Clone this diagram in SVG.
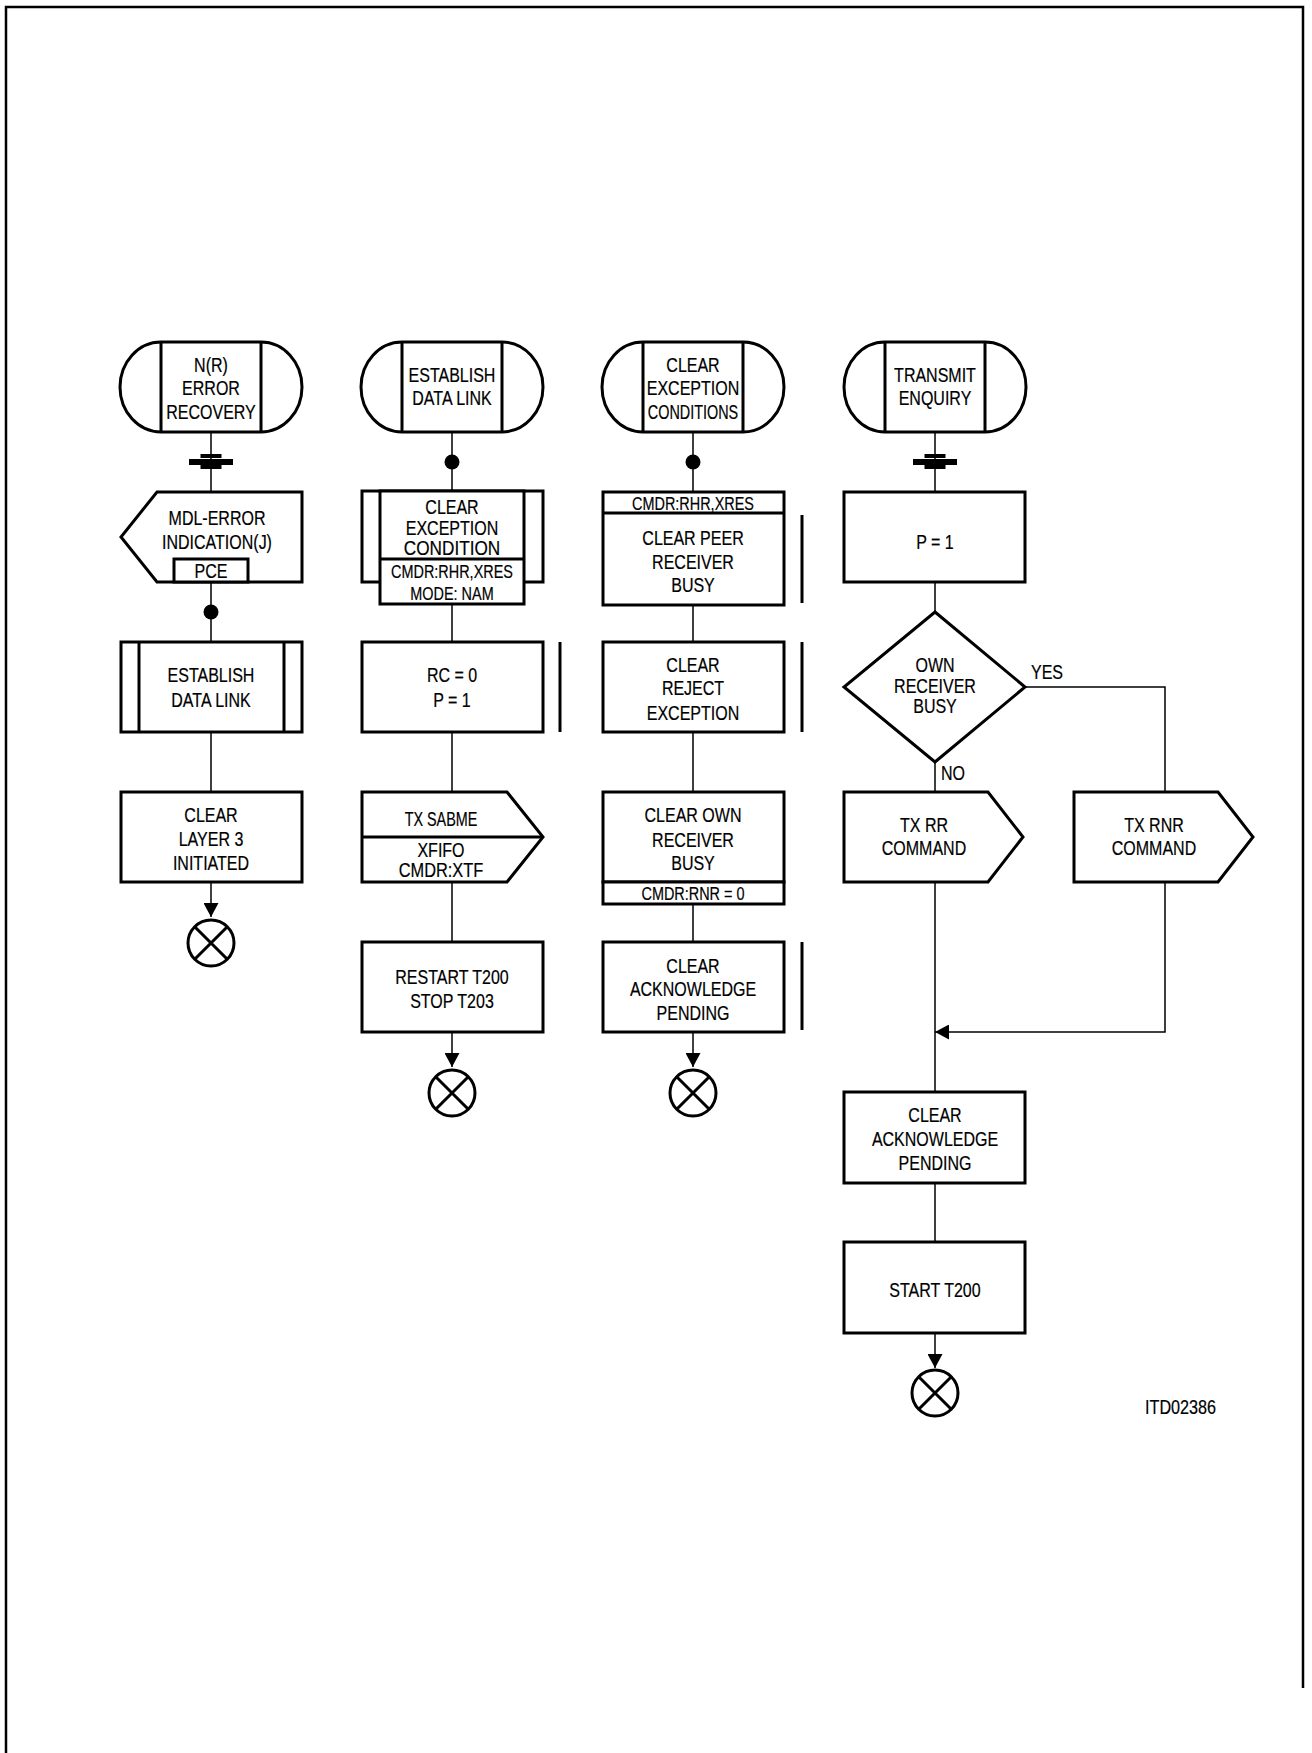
<svg xmlns="http://www.w3.org/2000/svg" width="1312" height="1753" viewBox="0 0 1312 1753">
<style>
.t{font-family:"Liberation Sans",Arial,Helvetica,sans-serif;font-size:20px;text-anchor:middle;fill:#000;stroke:#000;stroke-width:0.2}
.s{font-size:19px}
.st{text-anchor:start}
.b{fill:#fff;stroke:#000;stroke-width:3}
.bl{fill:none;stroke:#000;stroke-width:3}
.c{fill:none;stroke:#000;stroke-width:1.5}
.dot{fill:#000}
</style>
<defs>
<marker id="ah" markerWidth="15" markerHeight="15" refX="14" refY="7.5" orient="auto" markerUnits="userSpaceOnUse"><path d="M0,0 L14,7.5 L0,15 z" fill="#000"/></marker>
<g id="dbar"><rect x="-10.5" y="-8" width="21" height="4" fill="#000"/><rect x="-22" y="-3" width="44" height="6" fill="#000"/><rect x="-10.5" y="3" width="21" height="4" fill="#000"/></g>
<g id="endc"><circle cx="0" cy="0" r="23" fill="#fff" stroke="#000" stroke-width="3"/><path d="M-16.3,-16.3 L16.3,16.3 M16.3,-16.3 L-16.3,16.3" stroke="#000" stroke-width="3"/></g>
</defs>
<rect x="0" y="0" width="1312" height="1753" fill="#fff"/>
<path id="frame" d="M6,1753 V7 H1303 V1688" fill="none" stroke="#000" stroke-width="2.5"/>

<g id="connectors">
<path class="c" d="M211,432 V492 M211,582 V642 M211,732 V792"/>
<path class="c" d="M211,882 V917" marker-end="url(#ah)"/>
<path class="c" d="M452,432 V492 M452,604 V642 M452,732 V792 M452,882 V942"/>
<path class="c" d="M452,1032 V1067" marker-end="url(#ah)"/>
<path class="c" d="M693,432 V492 M693,605 V642 M693,732 V792 M693,904 V942"/>
<path class="c" d="M693,1032 V1067" marker-end="url(#ah)"/>
<path class="c" d="M935,432 V492 M935,582 V612 M935,762 V792 M935,882 V1092 M935,1183 V1242"/>
<path class="c" d="M935,1333 V1368" marker-end="url(#ah)"/>
<path class="c" d="M1025,687 H1165 V792"/>
<path class="c" d="M1165,882 V1032 H935" marker-end="url(#ah)"/>
<use href="#dbar" x="211" y="462"/>
<use href="#dbar" x="935" y="462"/>
<circle class="dot" cx="452" cy="462" r="7.5"/>
<circle class="dot" cx="693" cy="462" r="7.5"/>
<circle class="dot" cx="211" cy="612" r="7.5"/>
<text class="t st" transform="translate(1031,679) scale(0.8,1)">YES</text>
<text class="t st" transform="translate(941,780) scale(0.8,1)">NO</text>
</g>

<!-- Column 1 -->
<g id="n1-start">
<path class="b" d="M161,342 H261 A41,45 0 0 1 261,432 H161 A41,45 0 0 1 161,342 Z"/>
<path class="bl" d="M161,342 V432 M261,342 V432"/>
<text class="t" transform="translate(211,372) scale(0.8,1)">N(R)</text>
<text class="t" transform="translate(211,395) scale(0.8,1)">ERROR</text>
<text class="t" transform="translate(211,419) scale(0.8,1)">RECOVERY</text>
</g>
<g id="n1-mdl">
<polygon class="b" points="157,492 302,492 302,582 157,582 121,537"/>
<rect class="b" x="174" y="559" width="74" height="23"/>
<text class="t" transform="translate(217,525) scale(0.8,1)">MDL-ERROR</text>
<text class="t" transform="translate(217,549) scale(0.8,1)">INDICATION(J)</text>
<text class="t" transform="translate(211,578) scale(0.8,1)">PCE</text>
</g>
<g id="n1-establish">
<rect class="b" x="121" y="642" width="181" height="90"/>
<path class="bl" d="M139,642 V732 M284,642 V732"/>
<text class="t" transform="translate(211,682) scale(0.8,1)">ESTABLISH</text>
<text class="t" transform="translate(211,707) scale(0.8,1)">DATA LINK</text>
</g>
<g id="n1-clear">
<rect class="b" x="121" y="792" width="181" height="90"/>
<text class="t" transform="translate(211,822) scale(0.8,1)">CLEAR</text>
<text class="t" transform="translate(211,846) scale(0.8,1)">LAYER 3</text>
<text class="t" transform="translate(211,870) scale(0.8,1)">INITIATED</text>
</g>
<g id="n1-end"><use href="#endc" x="211" y="943"/></g>

<!-- Column 2 -->
<g id="n2-start">
<path class="b" d="M402,342 H502 A41,45 0 0 1 502,432 H402 A41,45 0 0 1 402,342 Z"/>
<path class="bl" d="M402,342 V432 M502,342 V432"/>
<text class="t" transform="translate(452,382) scale(0.8,1)">ESTABLISH</text>
<text class="t" transform="translate(452,405) scale(0.8,1)">DATA LINK</text>
</g>
<g id="n2-cec">
<rect class="b" x="362" y="491" width="181" height="91"/>
<rect class="b" x="380" y="491" width="144" height="113"/>
<path class="bl" d="M380,559 H524"/>
<text class="t" transform="translate(452,514) scale(0.8,1)">CLEAR</text>
<text class="t" transform="translate(452,535) scale(0.8,1)">EXCEPTION</text>
<text class="t" transform="translate(452,555) scale(0.86,1)">CONDITION</text>
<text class="t s" transform="translate(452,578) scale(0.76,1)">CMDR:RHR,XRES</text>
<text class="t s" transform="translate(452,600) scale(0.76,1)">MODE: NAM</text>
</g>
<g id="n2-rc">
<rect class="b" x="362" y="642" width="181" height="90"/>
<path class="bl" d="M560,642 V732"/>
<text class="t" transform="translate(452,682) scale(0.8,1)">RC = 0</text>
<text class="t" transform="translate(452,707) scale(0.8,1)">P = 1</text>
</g>
<g id="n2-tx">
<polygon class="b" points="362,792 507,792 543,837 507,882 362,882"/>
<path class="bl" d="M362,837 H543"/>
<text class="t" transform="translate(441,826) scale(0.72,1)">TX SABME</text>
<text class="t" transform="translate(441,857) scale(0.8,1)">XFIFO</text>
<text class="t" transform="translate(441,877) scale(0.82,1)">CMDR:XTF</text>
</g>
<g id="n2-restart">
<rect class="b" x="362" y="942" width="181" height="90"/>
<text class="t" transform="translate(452,984) scale(0.8,1)">RESTART T200</text>
<text class="t" transform="translate(452,1008) scale(0.8,1)">STOP T203</text>
</g>
<g id="n2-end"><use href="#endc" x="452" y="1093"/></g>

<!-- Column 3 -->
<g id="n3-start">
<path class="b" d="M643,342 H743 A41,45 0 0 1 743,432 H643 A41,45 0 0 1 643,342 Z"/>
<path class="bl" d="M643,342 V432 M743,342 V432"/>
<text class="t" transform="translate(693,372) scale(0.8,1)">CLEAR</text>
<text class="t" transform="translate(693,395) scale(0.8,1)">EXCEPTION</text>
<text class="t" transform="translate(693,419) scale(0.72,1)">CONDITIONS</text>
</g>
<g id="n3-peer">
<rect class="b" x="603" y="492" width="181" height="113"/>
<path class="bl" d="M603,513 H784"/>
<path class="bl" d="M802,515 V603"/>
<text class="t s" transform="translate(693,510) scale(0.76,1)">CMDR:RHR,XRES</text>
<text class="t" transform="translate(693,545) scale(0.8,1)">CLEAR PEER</text>
<text class="t" transform="translate(693,569) scale(0.8,1)">RECEIVER</text>
<text class="t" transform="translate(693,592) scale(0.8,1)">BUSY</text>
</g>
<g id="n3-reject">
<rect class="b" x="603" y="642" width="181" height="90"/>
<path class="bl" d="M802,642 V732"/>
<text class="t" transform="translate(693,672) scale(0.8,1)">CLEAR</text>
<text class="t" transform="translate(693,695) scale(0.8,1)">REJECT</text>
<text class="t" transform="translate(693,720) scale(0.8,1)">EXCEPTION</text>
</g>
<g id="n3-own">
<rect class="b" x="603" y="792" width="181" height="90"/>
<rect class="b" x="603" y="882" width="181" height="22"/>
<text class="t" transform="translate(693,822) scale(0.8,1)">CLEAR OWN</text>
<text class="t" transform="translate(693,847) scale(0.8,1)">RECEIVER</text>
<text class="t" transform="translate(693,870) scale(0.8,1)">BUSY</text>
<text class="t s" transform="translate(693,900) scale(0.76,1)">CMDR:RNR = 0</text>
</g>
<g id="n3-ack">
<rect class="b" x="603" y="942" width="181" height="90"/>
<path class="bl" d="M802,942 V1030"/>
<text class="t" transform="translate(693,973) scale(0.8,1)">CLEAR</text>
<text class="t" transform="translate(693,996) scale(0.8,1)">ACKNOWLEDGE</text>
<text class="t" transform="translate(693,1020) scale(0.8,1)">PENDING</text>
</g>
<g id="n3-end"><use href="#endc" x="693" y="1093"/></g>

<!-- Column 4 -->
<g id="n4-start">
<path class="b" d="M885,342 H985 A41,45 0 0 1 985,432 H885 A41,45 0 0 1 885,342 Z"/>
<path class="bl" d="M885,342 V432 M985,342 V432"/>
<text class="t" transform="translate(935,382) scale(0.8,1)">TRANSMIT</text>
<text class="t" transform="translate(935,405) scale(0.8,1)">ENQUIRY</text>
</g>
<g id="n4-p">
<rect class="b" x="844" y="492" width="181" height="90"/>
<text class="t" transform="translate(935,549) scale(0.8,1)">P = 1</text>
</g>
<g id="n4-decision">
<polygon class="b" points="935,612 1025,687 935,762 844,687"/>
<text class="t" transform="translate(935,672) scale(0.8,1)">OWN</text>
<text class="t" transform="translate(935,693) scale(0.8,1)">RECEIVER</text>
<text class="t" transform="translate(935,713) scale(0.8,1)">BUSY</text>
</g>
<g id="n4-rr">
<polygon class="b" points="844,792 988,792 1023,837 988,882 844,882"/>
<text class="t" transform="translate(924,832) scale(0.8,1)">TX RR</text>
<text class="t" transform="translate(924,855) scale(0.8,1)">COMMAND</text>
</g>
<g id="n4-rnr">
<polygon class="b" points="1074,792 1218,792 1253,837 1218,882 1074,882"/>
<text class="t" transform="translate(1154,832) scale(0.8,1)">TX RNR</text>
<text class="t" transform="translate(1154,855) scale(0.8,1)">COMMAND</text>
</g>
<g id="n4-ack">
<rect class="b" x="844" y="1092" width="181" height="91"/>
<text class="t" transform="translate(935,1122) scale(0.8,1)">CLEAR</text>
<text class="t" transform="translate(935,1146) scale(0.8,1)">ACKNOWLEDGE</text>
<text class="t" transform="translate(935,1170) scale(0.8,1)">PENDING</text>
</g>
<g id="n4-start-t200">
<rect class="b" x="844" y="1242" width="181" height="91"/>
<text class="t" transform="translate(935,1297) scale(0.8,1)">START T200</text>
</g>
<g id="n4-end"><use href="#endc" x="935" y="1393"/></g>

<text id="docid" class="t st" transform="translate(1145,1414) scale(0.81,1)">ITD02386</text>
</svg>
